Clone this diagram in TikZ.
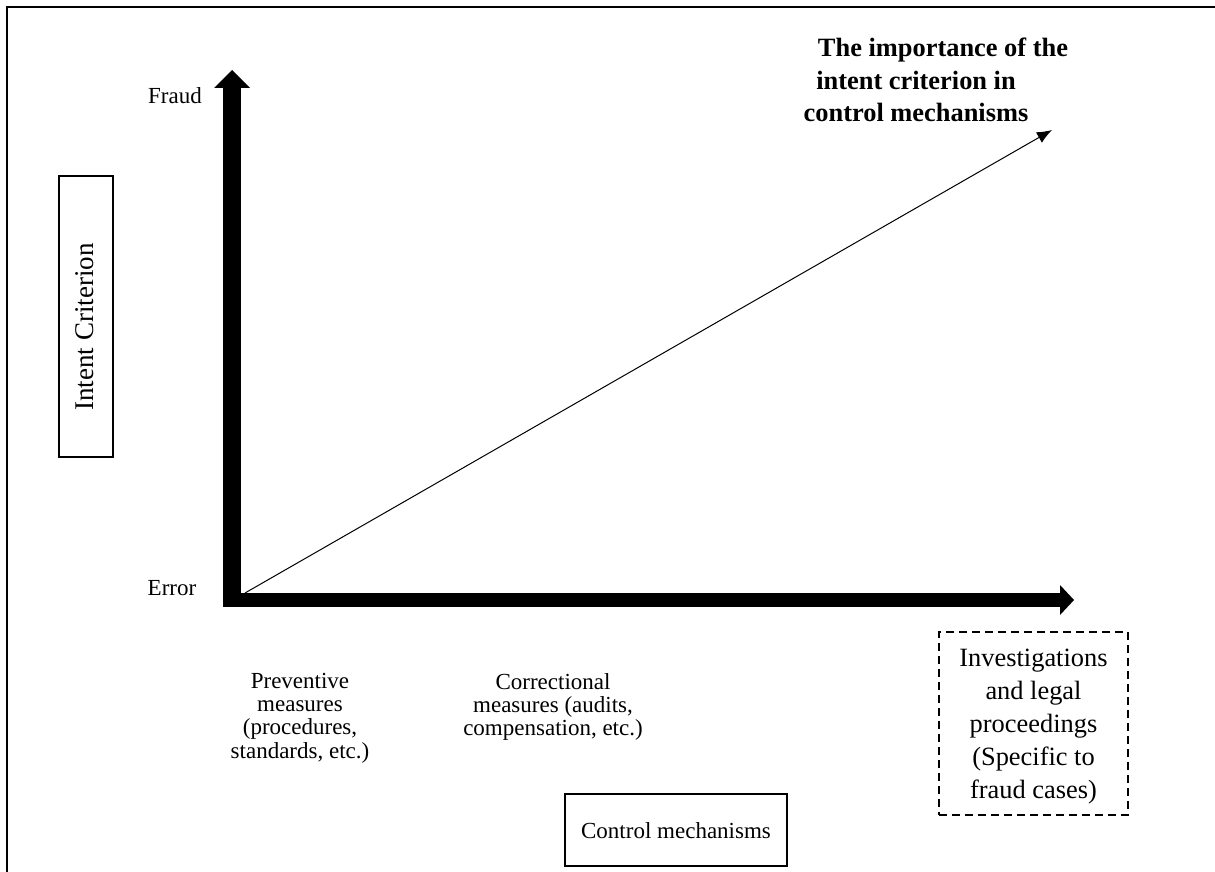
\documentclass[tikz,border=0pt]{standalone}
\usepackage{fontspec}
\setmainfont{Liberation Serif}
\usetikzlibrary{arrows.meta}
\tikzset{
  lbl/.style={font=\fontsize{23}{23.4}\selectfont, align=center, inner sep=0pt},
  biglbl/.style={font=\fontsize{26.4}{33}\selectfont, align=center, inner sep=0pt},
  titlelbl/.style={font=\fontsize{26.4}{32.8}\selectfont\bfseries, align=center, inner sep=0pt},
  framebox/.style={draw, line width=1.3pt},
  dashbox/.style={draw, line width=2.2pt, dash pattern=on 8pt off 5pt},
  axisfill/.style={fill=black, draw=none}
}
\begin{document}
\begin{tikzpicture}[x=1pt,y=-1pt]
\useasboundingbox (0,0) rectangle (1215,872);
\fill[white] (0,0) rectangle (1215,872);
% outer frame
\draw[line width=2pt] (7,890) -- (7,7) -- (1230,7);
% axes
\coordinate (O) at (232,600);
\coordinate (Ytip) at (232,70);
\coordinate (Xtip) at (1074,600);
\fill[axisfill] (223,607) rectangle (241,88);
\fill[axisfill] (214,88) -- (250,88) -- (Ytip) -- cycle;
\fill[axisfill] (223,593) rectangle (1060,607);
\fill[axisfill] (1060,585) -- (1060,615) -- (Xtip) -- cycle;
% diagonal
\coordinate (Dstart) at (245,593);
\coordinate (Dend) at (1052,130);
\draw[line width=1pt, -{Latex[length=15pt,width=12pt]}] (Dstart) -- (Dend);
% labels
\node[lbl] (fraud) at (175,96) {Fraud};
\node[lbl] (error) at (172,588) {Error};
\node[titlelbl] (title) at (916,80) {\hspace*{54pt}The importance of the\\intent criterion in\\control mechanisms};
\node[framebox, minimum width=54pt, minimum height=281pt, inner sep=0pt] (ibox) at (86,316.5) {};
\node[font=\fontsize{27}{28}\selectfont, rotate=90, inner sep=0pt] (itext) at (85,327) {Intent Criterion};
\node[lbl] (prev) at (300,718) {Preventive\\measures\\(procedures,\\standards, etc.)};
\node[lbl] (corr) at (553,707) {Correctional\\measures (audits,\\compensation, etc.)};
\node[dashbox, minimum width=189pt, minimum height=183pt, inner sep=0pt] (invbox) at (1033.5,723.5) {};
\node[biglbl] (inv) at (1033.5,727) {Investigations\\and legal\\proceedings\\(Specific to\\fraud cases)};
\node[framebox, minimum width=222pt, minimum height=72pt, inner sep=0pt] (cbox) at (676,830) {};
\node[lbl] (ctext) at (676,831) {Control mechanisms};
\end{tikzpicture}
\end{document}
